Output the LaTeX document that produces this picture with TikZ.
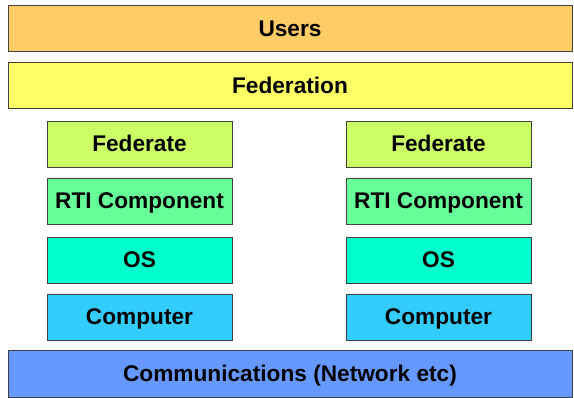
\documentclass[tikz,border=0pt]{standalone}
\usepackage{fontspec}
\setmainfont{Liberation Sans}
\usepackage{xcolor}
\usetikzlibrary{positioning}
\definecolor{users}{HTML}{FFCC66}
\definecolor{federation}{HTML}{FFFF66}
\definecolor{federate}{HTML}{CCFF66}
\definecolor{rti}{HTML}{66FF99}
\definecolor{os}{HTML}{00FFCC}
\definecolor{computer}{HTML}{33CCFF}
\definecolor{comms}{HTML}{6699FF}

\begin{document}
\begin{tikzpicture}[x=0.75pt,y=-0.75pt,
  font=\fontsize{17}{20}\selectfont\bfseries,
  layer/.style={draw=black!75,line width=0.7pt,fill=#1,text=black,
                minimum width=423pt,minimum height=35pt,inner sep=0pt,
                text height=12pt,text depth=0pt},
  part/.style={draw=black!75,line width=0.7pt,fill=#1,text=black,
               minimum width=138.75pt,minimum height=34.5pt,inner sep=0pt,
               text height=12pt,text depth=0pt},
  ]
  \useasboundingbox (0,0) rectangle (574,398);
  % ---- shared layers ----
  \node[layer=users]      (users) at (290,28.5) {Users};
  \node[layer=federation] (fedn)  at (290,85.5) {Federation};

  % ---- left stack ----
  \node[part=federate] (lfed) at (139.5,144) {Federate};
  \node[part=rti]      (lrti) at (139.5,201) {RTI Component};
  \node[part=os]       (los)  at (139.5,260) {OS};
  \node[part=computer] (lcpu) at (139.5,317) {Computer};

  % ---- right stack ----
  \node[part=federate] (rfed) at (438.5,144) {Federate};
  \node[part=rti]      (rrti) at (438.5,201) {RTI Component};
  \node[part=os]       (ros)  at (438.5,260) {OS};
  \node[part=computer] (rcpu) at (438.5,317) {Computer};

  % ---- network ----
  \node[layer=comms] (comms) at (290,374) {Communications (Network etc)};
\end{tikzpicture}
\end{document}
